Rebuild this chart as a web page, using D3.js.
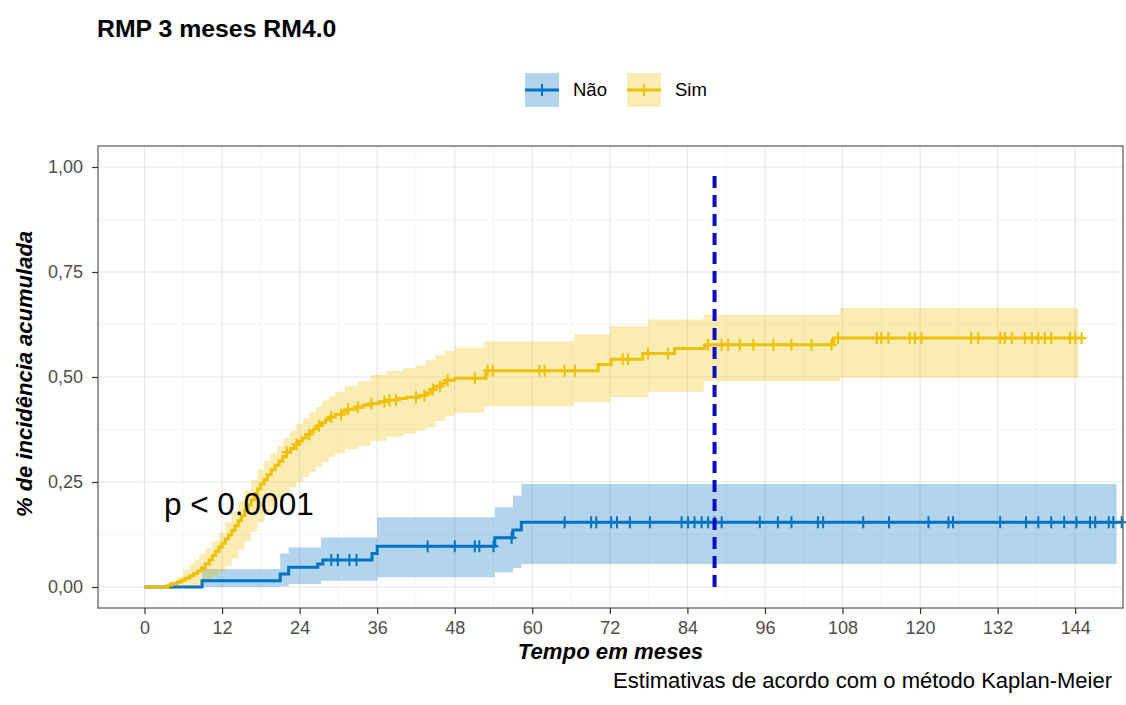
<!DOCTYPE html>
<html>
<head>
<meta charset="utf-8">
<script src="https://cdn.jsdelivr.net/npm/d3@7"></script>
<style>
  html, body { margin: 0; padding: 0; background: #ffffff; }
  svg text { font-family: "Liberation Sans", Arial, Helvetica, sans-serif; }
</style>
</head>
<body>
<div id="chart"></div>
<script>
// ---------------- DATA ----------------
const chartTitle = "RMP 3 meses RM4.0";
const groups = ["Não", "Sim"];
const groupColors = ["#0073C2", "#EFC000"];

const xTicks = [0, 12, 24, 36, 48, 60, 72, 84, 96, 108, 120, 132, 144];
const yTicks = [0, 0.25, 0.5, 0.75, 1];
const yTickLabels = ["0,00", "0,25", "0,50", "0,75", "1,00"];

// Não: cumulative incidence step function
const naoTime   = [0, 8.9, 21.0, 22.3, 26.8, 27.6, 35.2, 36.0, 54.2, 57.0, 58.3, 151.2];
const naoValue  = [0, 0.015, 0.031, 0.047, 0.055, 0.064, 0.080, 0.097, 0.117, 0.136, 0.154, 0.154];
const naoBandTime = [0, 8.9, 21.0, 22.3, 27.3, 36.0, 54.2, 57.0, 58.3, 150.4];
const naoLower    = [0, 0, 0.002, 0.007, 0.015, 0.023, 0.035, 0.045, 0.055, 0.055];
const naoUpper    = [0, 0.043, 0.080, 0.094, 0.118, 0.166, 0.190, 0.217, 0.245, 0.245];
const naoCensor = [28.9, 29.9, 31.7, 32.8, 43.8, 48.0, 51.1, 51.8, 54.0, 56.8, 65.0, 69.1, 69.9,
  72.2, 73.1, 75.1, 78.2, 83.1, 84.1, 85.1, 86.2, 87.2, 88.2, 89.3, 95.2, 98.0, 100.1, 104.2,
  105.0, 111.2, 115.2, 121.3, 124.4, 125.1, 132.4, 136.4, 138.3, 140.3, 142.3, 144.2, 146.3,
  147.1, 149.2, 149.9, 151.2];

// Sim: cumulative incidence step function
const simTime = [0, 3.6, 4.2, 5.0, 5.7, 6.3, 7.0, 7.6, 8.2, 8.8, 9.4, 10.0, 10.5, 11.0, 11.5,
  12.0, 12.5, 13.0, 13.5, 14.0, 14.5, 15.0, 15.5, 16.0, 16.5, 17.0, 17.5, 18.0, 18.5, 19.0,
  19.6, 20.2, 20.8, 21.4, 22.0, 22.6, 23.2, 23.8, 24.4, 25.0, 25.6, 26.2, 26.8, 27.4, 28.0,
  28.7, 29.5, 30.5, 31.5, 32.6, 33.8, 35.0, 36.3, 37.6, 39.0, 40.5, 42.5, 43.5, 44.3, 45.0,
  45.8, 46.6, 48.0, 52.8, 70.2, 72.2, 77.1, 82.0, 86.7, 106.6, 145.3];
const simValue = [0, 0.004, 0.008, 0.012, 0.016, 0.021, 0.027, 0.032, 0.038, 0.046, 0.055,
  0.065, 0.075, 0.085, 0.095, 0.104, 0.114, 0.124, 0.135, 0.146, 0.158, 0.170, 0.182, 0.195,
  0.208, 0.222, 0.234, 0.245, 0.256, 0.267, 0.279, 0.290, 0.300, 0.311, 0.321, 0.330, 0.339,
  0.347, 0.355, 0.363, 0.370, 0.377, 0.384, 0.391, 0.398, 0.405, 0.411, 0.417, 0.423, 0.428,
  0.433, 0.437, 0.441, 0.445, 0.449, 0.452, 0.456, 0.462, 0.470, 0.478, 0.485, 0.492, 0.497,
  0.515, 0.530, 0.542, 0.556, 0.568, 0.577, 0.593, 0.593];
const simBandTime = [0, 3.6, 5.0, 6.0, 7.0, 7.7, 8.5, 9.5, 10.5, 11.5, 12.5, 13.5, 14.5, 15.5,
  16.5, 17.5, 18.5, 19.5, 20.5, 21.5, 22.5, 23.5, 24.5, 25.5, 26.5, 27.5, 28.5, 29.5, 31.0,
  33.0, 35.0, 37.5, 40.0, 42.0, 43.5, 45.0, 46.5, 48.0, 52.6, 66.5, 72.0, 77.9, 86.5, 107.6, 144.5];
const simLower = [0, 0, 0, 0, 0, 0.002, 0.008, 0.015, 0.025, 0.037, 0.050, 0.068, 0.088, 0.110,
  0.132, 0.154, 0.172, 0.190, 0.206, 0.222, 0.237, 0.250, 0.262, 0.274, 0.286, 0.298, 0.310,
  0.318, 0.328, 0.336, 0.348, 0.358, 0.365, 0.372, 0.380, 0.395, 0.407, 0.415, 0.430, 0.440,
  0.452, 0.465, 0.490, 0.498, 0.498];
const simUpper = [0, 0.012, 0.025, 0.040, 0.055, 0.065, 0.078, 0.093, 0.110, 0.130, 0.155,
  0.180, 0.205, 0.230, 0.255, 0.280, 0.300, 0.318, 0.336, 0.355, 0.372, 0.388, 0.402, 0.416,
  0.430, 0.444, 0.455, 0.465, 0.480, 0.490, 0.505, 0.515, 0.522, 0.528, 0.540, 0.552, 0.562,
  0.570, 0.585, 0.601, 0.621, 0.637, 0.648, 0.664, 0.664];
const simCensor = [22.0, 23.5, 25.5, 27.0, 28.9, 30.4, 31.5, 33.0, 35.1, 37.1, 37.9, 38.9, 42.0,
  43.3, 44.6, 45.7, 46.9, 51.1, 53.1, 53.9, 61.1, 61.9, 65.0, 66.6, 74.0, 74.8, 77.9, 81.0, 87.2,
  89.3, 90.3, 92.1, 94.2, 97.3, 100.1, 103.2, 106.3, 107.3, 113.3, 114.0, 115.1, 118.4, 119.2,
  120.2, 127.9, 129.0, 132.4, 133.1, 134.2, 136.2, 137.3, 138.3, 139.3, 140.3, 143.2, 144.0, 145.0];

const refLineTime = 88.2;
const refLineRange = [0, 0.985];
const pValueText = "p < 0.0001";
const pValuePos = [3, 0.175];
const xLabel = "Tempo em meses";
const yLabel = "% de incidência acumulada";
const caption = "Estimativas de acordo com o método Kaplan-Meier";

// ---------------- LAYOUT ----------------
const W = 1126, H = 705;
const panel = { left: 98, right: 1123, top: 146, bottom: 608 };

const svg = d3.select("#chart").append("svg")
  .attr("width", W).attr("height", H)
  .style("display", "block");

svg.append("rect").attr("width", W).attr("height", H).attr("fill", "#fff");

const x = d3.scaleLinear().domain([-7.2, 151.4]).range([panel.left, panel.right]);
const y = d3.scaleLinear().domain([-0.05, 1.05]).range([panel.bottom, panel.top]);

// grid
const grid = svg.append("g");
const xMinor = xTicks.map(t => t + 6).filter(t => t < 151.4);
const yMinor = [0.125, 0.375, 0.625, 0.875];
grid.selectAll(".xminor").data(xMinor).enter().append("line")
  .attr("x1", d => x(d)).attr("x2", d => x(d))
  .attr("y1", panel.top).attr("y2", panel.bottom)
  .attr("stroke", "#F2F2F2").attr("stroke-width", 0.8);
grid.selectAll(".yminor").data(yMinor).enter().append("line")
  .attr("y1", d => y(d)).attr("y2", d => y(d))
  .attr("x1", panel.left).attr("x2", panel.right)
  .attr("stroke", "#F2F2F2").attr("stroke-width", 0.8);
grid.selectAll(".xmajor").data(xTicks).enter().append("line")
  .attr("x1", d => x(d)).attr("x2", d => x(d))
  .attr("y1", panel.top).attr("y2", panel.bottom)
  .attr("stroke", "#E6E6E6").attr("stroke-width", 1.2);
grid.selectAll(".ymajor").data(yTicks).enter().append("line")
  .attr("y1", d => y(d)).attr("y2", d => y(d))
  .attr("x1", panel.left).attr("x2", panel.right)
  .attr("stroke", "#E6E6E6").attr("stroke-width", 1.2);

// helpers
function zip(ts, vs) { return ts.map((t, i) => ({ t, v: vs[i] })); }
function stepAt(ts, vs, t) {
  let idx = 0;
  for (let i = 0; i < ts.length; i++) if (ts[i] <= t) idx = i;
  return vs[idx];
}

const series = [
  { name: groups[0], color: groupColors[0], time: naoTime, value: naoValue,
    bandTime: naoBandTime, lower: naoLower, upper: naoUpper, censor: naoCensor },
  { name: groups[1], color: groupColors[1], time: simTime, value: simValue,
    bandTime: simBandTime, lower: simLower, upper: simUpper, censor: simCensor }
];

const plot = svg.append("g");

// ribbons
series.forEach(s => {
  const bd = s.bandTime.map((t, i) => ({ t, lo: s.lower[i], hi: s.upper[i] }));
  const area = d3.area().curve(d3.curveStepAfter)
    .x(d => x(d.t)).y0(d => y(d.lo)).y1(d => y(d.hi));
  plot.append("path").datum(bd).attr("d", area)
    .attr("fill", s.color).attr("fill-opacity", 0.3);
});

// lines
series.forEach(s => {
  const line = d3.line().curve(d3.curveStepAfter).x(d => x(d.t)).y(d => y(d.v));
  plot.append("path").datum(zip(s.time, s.value)).attr("d", line)
    .attr("fill", "none").attr("stroke", s.color).attr("stroke-width", 3);
  const cg = plot.append("g");
  s.censor.forEach(t => {
    const v = stepAt(s.time, s.value, t);
    cg.append("path")
      .attr("d", `M${x(t)},${y(v) - 6}V${y(v) + 6}M${x(t) - 5},${y(v)}H${x(t) + 5}`)
      .attr("stroke", s.color).attr("stroke-width", 2).attr("fill", "none");
  });
});

// reference dashed line
plot.append("line")
  .attr("x1", x(refLineTime)).attr("x2", x(refLineTime))
  .attr("y1", y(refLineRange[0])).attr("y2", y(refLineRange[1]))
  .attr("stroke", "#0B0BC4").attr("stroke-width", 4)
  .attr("stroke-dasharray", "12,7");

// p-value
svg.append("text").attr("x", x(pValuePos[0])).attr("y", y(pValuePos[1]) + 1)
  .attr("font-size", 31.5).attr("fill", "#000").text(pValueText);

// panel border
svg.append("rect")
  .attr("x", panel.left).attr("y", panel.top)
  .attr("width", panel.right - panel.left).attr("height", panel.bottom - panel.top)
  .attr("fill", "none").attr("stroke", "#555").attr("stroke-width", 1.2);

// axes
const xAxis = svg.append("g").attr("transform", `translate(0,${panel.bottom})`)
  .call(d3.axisBottom(x).tickValues(xTicks).tickSize(6).tickSizeOuter(0).tickPadding(7));
xAxis.select(".domain").remove();
xAxis.selectAll("line").attr("stroke", "#333").attr("stroke-width", 1.2);
xAxis.selectAll("text").attr("font-size", 18).attr("fill", "#4D4D4D")
  .attr("font-family", "Liberation Sans, Arial, sans-serif");

const yAxis = svg.append("g").attr("transform", `translate(${panel.left},0)`)
  .call(d3.axisLeft(y).tickValues(yTicks).tickFormat((d, i) => yTickLabels[i])
    .tickSize(6).tickSizeOuter(0).tickPadding(9));
yAxis.select(".domain").remove();
yAxis.selectAll("line").attr("stroke", "#333").attr("stroke-width", 1.2);
yAxis.selectAll("text").attr("font-size", 18).attr("fill", "#4D4D4D")
  .attr("font-family", "Liberation Sans, Arial, sans-serif");

// axis titles
svg.append("text").attr("x", (panel.left + panel.right) / 2).attr("y", 659)
  .attr("text-anchor", "middle").attr("font-size", 22.2).attr("font-weight", "bold")
  .attr("font-style", "italic").attr("fill", "#000").text(xLabel);
svg.append("text")
  .attr("transform", `translate(32,${(panel.top + panel.bottom) / 2 - 3}) rotate(-90)`)
  .attr("text-anchor", "middle").attr("font-size", 22).attr("font-weight", "bold")
  .attr("font-style", "italic").attr("fill", "#000").text(yLabel);

// caption
svg.append("text").attr("x", 1112).attr("y", 688).attr("text-anchor", "end")
  .attr("font-size", 22).attr("fill", "#000").text(caption);

// title
svg.append("text").attr("x", 97).attr("y", 37)
  .attr("font-size", 24.8).attr("font-weight", "bold").attr("fill", "#000").text(chartTitle);

// legend
const legendItems = [
  { label: groups[0], color: groupColors[0], x: 525 },
  { label: groups[1], color: groupColors[1], x: 627 }
];
legendItems.forEach(it => {
  const g = svg.append("g").attr("transform", `translate(${it.x},73)`);
  g.append("rect").attr("width", 34).attr("height", 34)
    .attr("fill", it.color).attr("fill-opacity", 0.3);
  g.append("line").attr("x1", 0).attr("x2", 34).attr("y1", 17).attr("y2", 17)
    .attr("stroke", it.color).attr("stroke-width", 3);
  g.append("line").attr("x1", 17).attr("x2", 17).attr("y1", 11).attr("y2", 23)
    .attr("stroke", it.color).attr("stroke-width", 2);
  g.append("text").attr("x", 48).attr("y", 23).attr("font-size", 18.5)
    .attr("fill", "#000").text(it.label);
});
</script>
</body>
</html>
